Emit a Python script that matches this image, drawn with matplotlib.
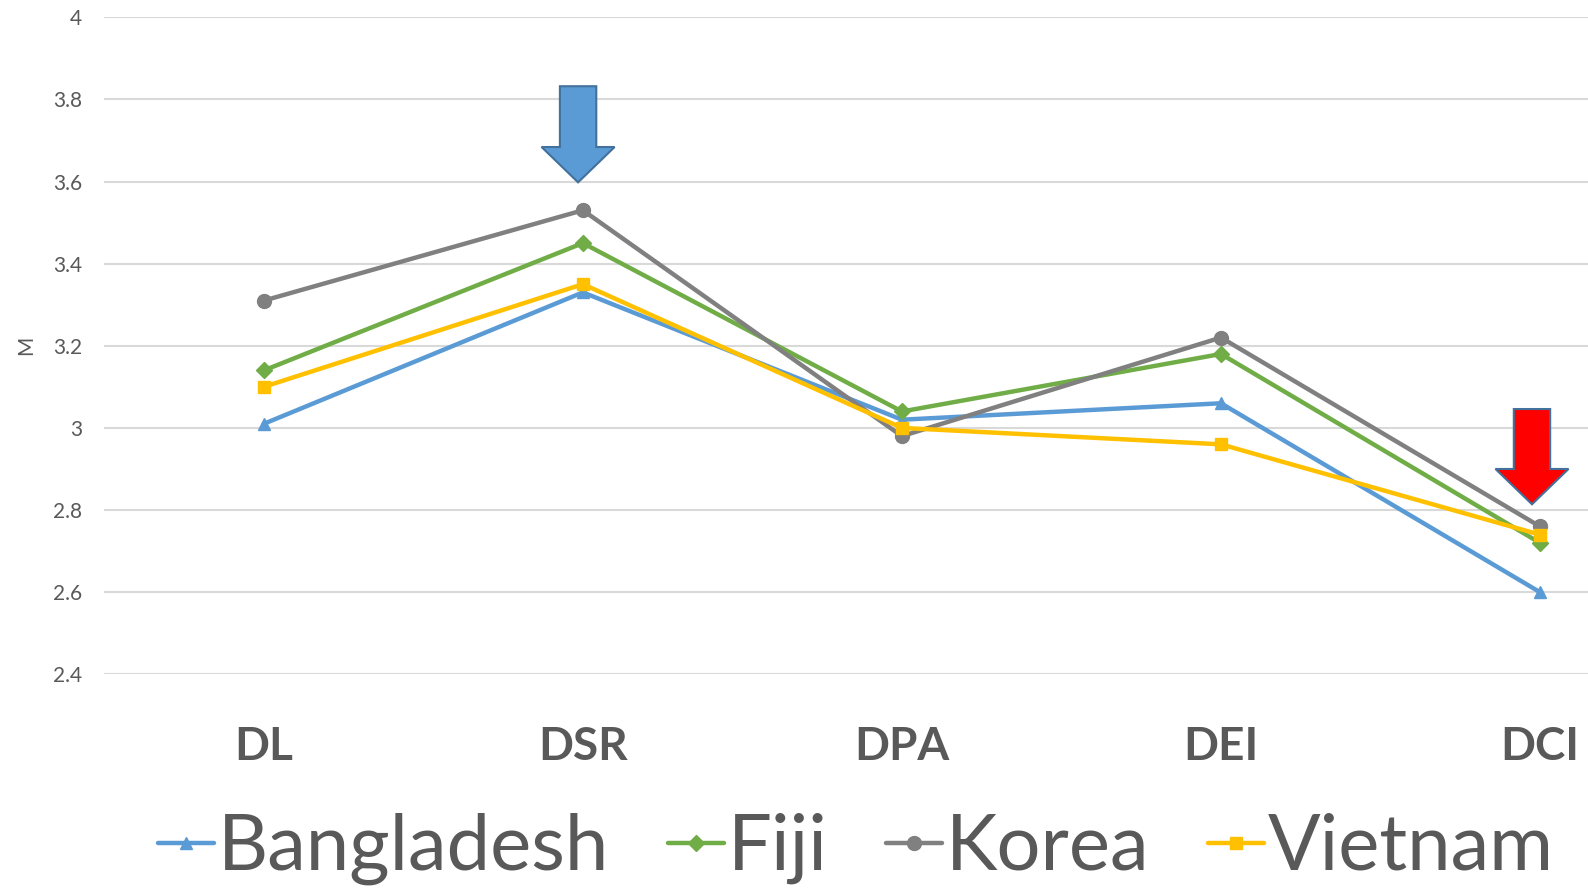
import numpy as np
import matplotlib.pyplot as plt

categories = ['DL', 'DSR', 'DPA', 'DEI', 'DCI']
bangladesh = [3.01, 3.33, 3.02, 3.06, 2.60]
fiji = [3.14, 3.45, 3.04, 3.18, 2.72]
korea = [3.31, 3.53, 2.98, 3.22, 2.76]
vietnam = [3.10, 3.35, 3.00, 2.96, 2.74]
yticks = [2.4, 2.6, 2.8, 3.0, 3.2, 3.4, 3.6, 3.8, 4.0]
ytick_labels = ['2.4', '2.6', '2.8', '3', '3.2', '3.4', '3.6', '3.8', '4']

plt.rcParams['font.family'] = ['Lato', 'DejaVu Sans']
text_color = '#595959'

fig = plt.figure(figsize=(15.88, 8.89), dpi=100)
ax = fig.add_axes([0.0657, 0.2415, 1.0045, 0.7391])

x = np.arange(len(categories))
series = [
    ('Bangladesh', bangladesh, '#5B9BD5', '^'),
    ('Fiji', fiji, '#70AD47', 'D'),
    ('Korea', korea, '#808080', 'o'),
    ('Vietnam', vietnam, '#FFC000', 's'),
]
sizes = {'^': 9, 'D': 8, 'o': 10, 's': 9}
for name, vals, color, marker in series:
    ax.plot(x, vals, color=color, lw=3.2, marker=marker, ms=sizes[marker],
            label=name, solid_capstyle='round', zorder=3)

# annotation arrows
ax.arrow(0.985, 3.832, 0, -(3.832 - 3.598), width=0.114, head_width=0.229,
         head_length=0.086, length_includes_head=True,
         facecolor='#5B9BD5', edgecolor='#41719C', lw=1.5, zorder=4)
ax.arrow(3.975, 3.046, 0, -(3.046 - 2.814), width=0.114, head_width=0.229,
         head_length=0.086, length_includes_head=True,
         facecolor='#FF0000', edgecolor='#41719C', lw=1.5, zorder=4)

ax.set_xlim(-0.5, 4.5)
ax.set_ylim(2.4, 4.0)
ax.set_yticks(yticks)
ax.set_yticklabels(ytick_labels)
ax.set_xticks(x)
ax.set_xticklabels(categories, fontsize=33, fontweight='bold', color=text_color)
ax.tick_params(axis='x', length=0, pad=37)
ax.tick_params(axis='y', length=0, pad=16, labelsize=15, labelcolor=text_color)
ax.grid(axis='y', color='#D9D9D9', lw=1.5)
ax.set_axisbelow(True)
for s in ax.spines.values():
    s.set_visible(False)
ax.set_ylabel('M', fontsize=15, color=text_color, labelpad=12)

fig.legend(loc='center', bbox_to_anchor=(0.539, 0.045), ncol=4,
           frameon=False, fontsize=56, labelcolor=text_color,
           handlelength=0.72, handletextpad=0.05, columnspacing=0.75)

fig.savefig('out.png', dpi=100)
